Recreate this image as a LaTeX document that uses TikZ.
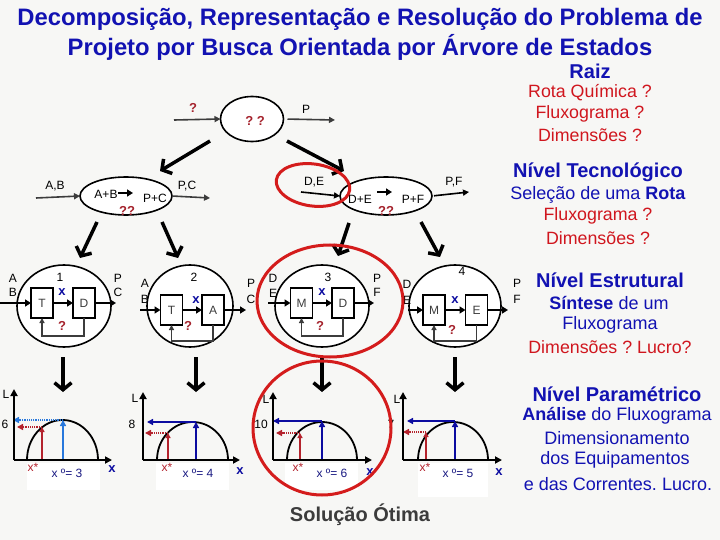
\documentclass[tikz,border=0pt]{standalone}
\usepackage{fontspec}
\setmainfont{Liberation Sans}
\usetikzlibrary{arrows.meta,shapes.geometric}
\definecolor{bg}{RGB}{247,247,245}
\definecolor{tblue}{RGB}{18,18,178}
\definecolor{tred}{RGB}{208,22,30}
\definecolor{qred}{RGB}{165,35,45}
\definecolor{lblue}{RGB}{40,120,220}
\definecolor{dblue}{RGB}{12,12,160}
\definecolor{xblue}{RGB}{25,25,130}
\definecolor{dred}{RGB}{180,35,45}
\definecolor{gray1}{RGB}{60,60,60}
\definecolor{ringred}{RGB}{212,28,28}
\newcommand\myfs[1]{\fontsize{#1}{#1}\selectfont\frenchspacing}
\begin{document}
\begin{tikzpicture}[x=1pt,y=-1pt,
  every node/.style={inner sep=0pt, outer sep=0pt},
  ell/.style={ellipse, draw=black, line width=1.6pt, fill=white, inner sep=0pt},
  box/.style={rectangle, draw=black, line width=1.3pt, fill=white, minimum width=22pt, minimum height=30pt, font=\myfs{12}, text=gray1},
  lbl/.style={font=\myfs{12}, text=black},
  qm/.style={font=\bfseries\myfs{13}, text=qred},
  xm/.style={font=\bfseries\myfs{13}, text=dblue},
  flow/.style={line width=1.6pt, draw=gray1, -{Triangle[length=6pt,width=6pt]}},
  tflow/.style={line width=1.6pt, draw=black, -{Triangle[length=6pt,width=7pt]}},
  fb/.style={line width=1.6pt, draw=gray1, -{Triangle[length=5pt,width=5pt]}},
  bigarrow/.style={line width=3.5pt, draw=black, -{Straight Barb[length=7pt,width=17pt]}},
  redring/.style={draw=ringred, line width=3pt},
  axis/.style={line width=2pt, draw=black, -{Triangle[length=7pt,width=7pt]}},
  curve/.style={line width=1.8pt, draw=black},
  lbv/.style={line width=2.2pt, draw=lblue, -{Triangle[length=6pt,width=6pt]}},
  lbh/.style={line width=2.2pt, draw=lblue, dash pattern=on 1.2pt off 1pt, -{Triangle[length=6pt,width=6pt]}},
  dbv/.style={line width=2.2pt, draw=dblue, -{Triangle[length=6pt,width=6pt]}},
  rv/.style={line width=2.2pt, draw=dred, -{Triangle[length=5pt,width=5pt]}},
  rh/.style={line width=2.2pt, draw=dred, dash pattern=on 1.2pt off 1pt, -{Triangle[length=6pt,width=6pt]}},
  ttl/.style={font=\bfseries\myfs{23.8}, text=tblue},
  hd/.style={font=\bfseries\myfs{20}, text=tblue},
  bt/.style={font=\myfs{18}, text=tblue},
  rt/.style={font=\myfs{17.8}, text=tred},
  pl/.style={font=\myfs{12}, text=black},
  xs/.style={font=\myfs{12}, text=dred},
  xo/.style={font=\myfs{12}, text=xblue},
  xa/.style={font=\bfseries\myfs{13}, text=dblue}]
\fill[bg] (0,0) rectangle (720,540);
\useasboundingbox (0,0) rectangle (720,540);

% ---------- titles ----------
\node[ttl] (t1) at (360,19) {Decomposição, Representação e Resolução do Problema de};
\node[ttl] (t2) at (360,47) {Projeto por Busca Orientada por Árvore de Estados};

% ---------- right column ----------
\node[hd] (raiz) at (590,71) {Raiz};
\node[rt] (r1) at (590,93) {Rota Química ?};
\node[rt] (r2) at (590,114) {Fluxograma ?};
\node[rt] (r3) at (590,135) {Dimensões ?};
\node[hd] (nt) at (598,172) {Nível Tecnológico};
\node[bt] (n1) at (598,195) {Seleção de uma \textbf{Rota}};
\node[rt] (n2) at (598,216) {Fluxograma ?};
\node[rt] (n3) at (598,238) {Dimensões ?};
\node[hd] (ne) at (610,280) {Nível Estrutural};
\node[bt] (e1) at (609,303) {\textbf{Síntese} de um};
\node[bt] (e2) at (610,325) {Fluxograma};
\node[rt] (e3) at (610,347) {Dimensões ? Lucro?};
\node[hd] (np) at (617,394) {Nível Paramétrico};
\node[bt] (p1) at (617,416) {\textbf{Análise} do Fluxograma};
\node[bt] (p2) at (617,438) {Dimensionamento};
\node[bt] (p3) at (615,460) {dos Equipamentos};
\node[bt] (p4) at (618,484) {e das Correntes. Lucro.};

% ---------- root ----------
\node[ell, minimum width=63pt, minimum height=45pt] (root) at (252,119) {};
\node[qm] (rootq) at (255,121) {? ?};
\coordinate (rin) at (174,120);
\coordinate (rout) at (335,120);
\draw[flow] (rin) -- (root.west);
\draw[flow, shorten <=4pt] (root.east) -- (rout);
\node[qm] (rinq) at (193,108) {?};
\node[pl] (routl) at (306,109) {P};

% ---------- level 1 ----------
\node[ell, minimum width=92pt, minimum height=38pt] (la) at (126,196) {};
\node[pl] (lab) at (106,194) {A+B};
\node[pl] (lpc) at (155,198) {P+C};
\node[qm] (laq) at (127,211) {??};
\coordinate (la1) at (118,193); \coordinate (la2) at (133,193);
\draw[tflow, line width=2pt] (la1) -- (la2);
\coordinate (lain) at (36,198); \coordinate (laout) at (210,198);
\draw[flow] (lain) -- (la.west);
\draw[flow] (la.east) -- (laout);
\node[pl] (lainl) at (55,186) {A,B};
\node[pl] (laoutl) at (187,186) {P,C};

\node[ell, minimum width=92pt, minimum height=38pt] (lb) at (386,196) {};
\node[pl] (lde) at (360,199) {D+E};
\node[pl] (lpf) at (413,199) {P+F};
\node[qm] (lbq) at (386,211) {??};
\coordinate (lb1) at (377,192); \coordinate (lb2) at (392,192);
\draw[tflow, line width=2pt] (lb1) -- (lb2);
\coordinate (lbin) at (301,192); \coordinate (lbout) at (469,192);
\draw[flow, draw=black] (lbin) -- (lb.west);
\draw[flow, draw=black, shorten <=2pt] (lb.east) -- (lbout);
\node[pl] (lbinl) at (314,182) {D,E};
\node[pl] (lboutl) at (454,182) {P,F};

% big arrows root -> level 1
\coordinate (ba1) at (210,141); \coordinate (ba2) at (160,171);
\coordinate (ba3) at (287,141); \coordinate (ba4) at (344,171);
\draw[bigarrow] (ba1) -- (ba2);
\draw[bigarrow] (ba3) -- (ba4);

% big arrows level 1 -> level 2
\coordinate (bb1) at (97,222); \coordinate (bb2) at (80,258);
\coordinate (bb3) at (162,222); \coordinate (bb4) at (178,258);
\coordinate (bb5) at (349,223); \coordinate (bb6) at (338,256);
\coordinate (bb7) at (421,222); \coordinate (bb8) at (440,257);
\draw[bigarrow] (bb1) -- (bb2);
\draw[bigarrow] (bb3) -- (bb4);
\draw[bigarrow] (bb5) -- (bb6);
\draw[bigarrow] (bb7) -- (bb8);

% ---------- level 2 : tree 1 ----------
\node[ell, minimum width=94pt, minimum height=82pt] (e1t) at (64,306) {};
\node[box] (b1t) at (42,303) {T};
\node[box] (b1d) at (84,303) {D};
\node[pl] (n1l) at (60,277) {1};
\node[pl] (a1l) at (13,278) {A};
\node[pl] (b1l) at (13,292) {B};
\node[pl] (p1l) at (118,278) {P};
\node[pl] (c1l) at (118,292) {C};
\coordinate (i1) at (0,303); \coordinate (o1) at (116,303);
\draw[tflow] (i1) -- (b1t.west);
\draw[tflow] (b1t.east) -- (b1d.west);
\draw[tflow] (b1d.east) -- (o1);
\draw[fb] (b1d.south) -- ++(0,18) -| (b1t.south);
\node[xm] (x1) at (62,292) {x};
\node[qm] (q1) at (62,326) {?};

% ---------- tree 2 ----------
\node[ell, minimum width=86pt, minimum height=82pt] (e2t) at (190,306) {};
\node[box] (b2t) at (171.5,310) {T};
\node[box] (b2a) at (213,310) {A};
\node[pl] (n2l) at (194,277) {2};
\node[pl] (a2l) at (145,283) {A};
\node[pl] (b2l) at (145,299) {B};
\node[pl] (p2l) at (251,283) {P};
\node[pl] (c2l) at (251,299) {C};
\coordinate (i2) at (140,310); \coordinate (o2) at (246,310);
\draw[tflow] (i2) -- (b2t.west);
\draw[tflow] (b2t.east) -- (b2a.west);
\draw[tflow] (b2a.east) -- (o2);
\draw[fb] (b2a.south) -- ++(0,16) -| (b2t.south);
\node[xm] (x2) at (196,300) {x};
\node[qm] (q2) at (188,326) {?};

% ---------- tree 3 ----------
\node[ell, minimum width=94pt, minimum height=82pt] (e3t) at (322,306) {};
\node[box] (b3m) at (301.5,303) {M};
\node[box] (b3d) at (343,303) {D};
\node[pl] (n3l) at (328,277) {3};
\node[pl] (d3l) at (273,278) {D};
\node[pl] (e3l) at (273,293) {E};
\node[pl] (p3l) at (377,278) {P};
\node[pl] (f3l) at (377,292) {F};
\coordinate (i3) at (268,303); \coordinate (o3) at (374,303);
\draw[tflow] (i3) -- (b3m.west);
\draw[tflow] (b3m.east) -- (b3d.west);
\draw[tflow] (b3d.east) -- (o3);
\draw[fb] (b3d.south) -- ++(0,18) -| (b3m.south);
\node[xm] (x3) at (322,292) {x};
\node[qm] (q3) at (320,326) {?};

% ---------- tree 4 ----------
\node[ell, minimum width=92pt, minimum height=82pt] (e4t) at (455,306) {};
\node[box] (b4m) at (434,310) {M};
\node[box] (b4e) at (476.5,310) {E};
\node[pl] (n4l) at (462,271) {4};
\node[pl] (d4l) at (407,284) {D};
\node[pl] (e4l) at (407,300) {E};
\node[pl] (p4l) at (517,283) {P};
\node[pl] (f4l) at (517,299) {F};
\coordinate (i4) at (408,310); \coordinate (o4) at (508,310);
\draw[tflow] (i4) -- (b4m.west);
\draw[tflow] (b4m.east) -- (b4e.west);
\draw[tflow] (b4e.east) -- (o4);
\draw[fb] (b4e.south) -- ++(0,16) -| (b4m.south);
\node[xm] (x4) at (455,300) {x};
\node[qm] (q4) at (452,330) {?};

% big arrows level 2 -> plots
\coordinate (bc1) at (63,357); \coordinate (bc2) at (63,392);
\coordinate (bc3) at (196,357); \coordinate (bc4) at (196,392);
\coordinate (bc5) at (322,357); \coordinate (bc6) at (322,392);
\coordinate (bc7) at (455,357); \coordinate (bc8) at (455,392);
\draw[bigarrow] (bc1) -- (bc2);
\draw[bigarrow] (bc3) -- (bc4);
\draw[bigarrow] (bc5) -- (bc6);
\draw[bigarrow] (bc7) -- (bc8);

% ---------- plot 1 ----------
\begin{scope}[shift={(14,460)}]
  \fill[white] (13,3) rectangle (86,30);
  \coordinate (q1o) at (0,0); \coordinate (q1y) at (0,-71); \coordinate (q1x) at (98,0);
  \draw[curve] (13,0) arc[start angle=180, end angle=0, x radius=35.5pt, y radius=40pt];
  \coordinate (q1r0) at (28,0); \coordinate (q1r1) at (28,-33); \coordinate (q1r2) at (3,-33);
  \draw[rv] (q1r0) -- (q1r1);
  \draw[rh] (q1r1) -- (q1r2);
  \coordinate (q1b0) at (49,0); \coordinate (q1b1) at (49,-40); \coordinate (q1b2) at (-1,-40);
  \draw[lbv] (q1b0) -- (q1b1);
  \draw[lbh] (q1b1) -- (q1b2);
  \draw[axis] (q1o) -- (q1y);
  \draw[axis] (q1o) -- (q1x);
  \node[pl] (q1L) at (-8,-66) {L};
  \node[pl] (q1v) at (-9,-36) {6};
  \node[xs] (q1s) at (19,7) {x*};
  \node[xo] (q1m) at (53,13) {x º= 3};
  \node[xa] (q1a) at (98,9) {x};
\end{scope}

% ---------- plot 2 ----------
\begin{scope}[shift={(143,460)}]
  \fill[white] (13,3) rectangle (86,30);
  \coordinate (q2o) at (0,0); \coordinate (q2y) at (0,-68); \coordinate (q2x) at (97,0);
  \draw[curve] (14,0) arc[start angle=180, end angle=0, x radius=35.5pt, y radius=38pt];
  \coordinate (q2r0) at (25,0); \coordinate (q2r1) at (25,-27); \coordinate (q2r2) at (2,-27);
  \draw[rv] (q2r0) -- (q2r1);
  \draw[rh] (q2r1) -- (q2r2);
  \coordinate (q2b0) at (53,0); \coordinate (q2b1) at (53,-38); \coordinate (q2b2) at (4,-38);
  \draw[dbv] (q2b0) -- (q2b1);
  \draw[dbv] (q2b1) -- (q2b2);
  \draw[axis] (q2o) -- (q2y);
  \draw[axis] (q2o) -- (q2x);
  \node[pl] (q2L) at (-8,-62) {L};
  \node[pl] (q2v) at (-11,-36) {8};
  \node[xs] (q2s) at (24,7) {x*};
  \node[xo] (q2m) at (55,13) {x º= 4};
  \node[xa] (q2a) at (97,11) {x};
\end{scope}

% ---------- plot 3 ----------
\begin{scope}[shift={(273,460)}]
  \fill[white] (12,3) rectangle (85,30);
  \coordinate (q3o) at (0,0); \coordinate (q3y) at (0,-68); \coordinate (q3x) at (99,0);
  \draw[curve] (14,0) arc[start angle=180, end angle=0, x radius=35pt, y radius=38pt];
  \coordinate (q3r0) at (27,0); \coordinate (q3r1) at (27,-27); \coordinate (q3r2) at (3,-27);
  \draw[rv] (q3r0) -- (q3r1);
  \draw[rh] (q3r1) -- (q3r2);
  \coordinate (q3b0) at (49,0); \coordinate (q3b1) at (49,-39); \coordinate (q3b2) at (0,-39);
  \draw[dbv] (q3b0) -- (q3b1);
  \draw[dbv] (q3b1) -- (q3b2);
  \draw[axis] (q3o) -- (q3y);
  \draw[axis] (q3o) -- (q3x);
  \node[pl] (q3L) at (-7,-61) {L};
  \node[pl] (q3v) at (-12,-36) {10};
  \node[xs] (q3s) at (25,7) {x*};
  \node[xo] (q3m) at (59,13) {x º= 6};
  \node[xa] (q3a) at (97,12) {x};
\end{scope}

% ---------- plot 4 ----------
\begin{scope}[shift={(403,460)}]
  \fill[white] (15,3) rectangle (85,37);
  \coordinate (q4o) at (0,0); \coordinate (q4y) at (0,-68); \coordinate (q4x) at (99,0);
  \draw[curve] (15,0) arc[start angle=180, end angle=0, x radius=35pt, y radius=38pt];
  \coordinate (q4r0) at (23,0); \coordinate (q4r1) at (23,-28); \coordinate (q4r2) at (0,-28);
  \draw[rv] (q4r0) -- (q4r1);
  \draw[rh] (q4r1) -- (q4r2);
  \coordinate (q4b0) at (52,0); \coordinate (q4b1) at (52,-39); \coordinate (q4b2) at (4,-39);
  \draw[dbv] (q4b0) -- (q4b1);
  \draw[dbv] (q4b1) -- (q4b2);
  \draw[axis] (q4o) -- (q4y);
  \draw[axis] (q4o) -- (q4x);
  \node[pl] (q4L) at (-6,-61) {L};
  \node[pl] (q4v) at (-12,-36) {7};
  \node[xs] (q4s) at (22,7) {x*};
  \node[xo] (q4m) at (55,13) {x º= 5};
  \node[xa] (q4a) at (96,12) {x};
\end{scope}

\node[font=\bfseries\myfs{20}, text=gray1] (sol) at (360,515) {Solução Ótima};

% ---------- red rings ----------
\draw[redring] (313,185) ellipse[x radius=37pt, y radius=21pt, rotate=-8];
\draw[redring] (330,301) ellipse[x radius=73pt, y radius=56pt];
\draw[redring] (322,428) ellipse[x radius=69pt, y radius=67pt];
\end{tikzpicture}
\end{document}
